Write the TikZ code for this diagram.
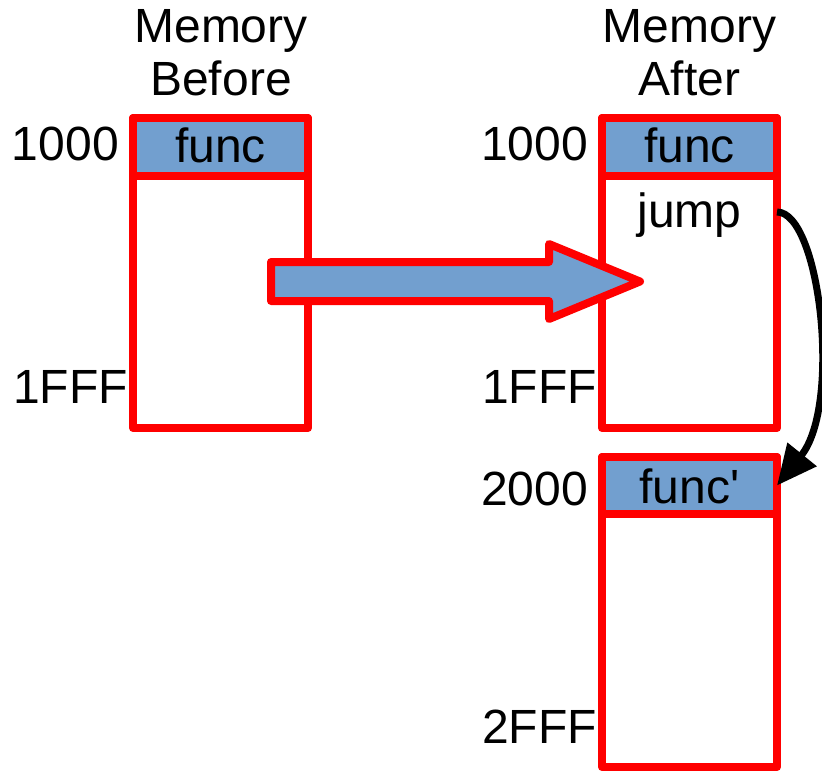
\documentclass[tikz,border=0pt]{standalone}
\usepackage{fontspec}
\setmainfont{Liberation Sans}
\usetikzlibrary{arrows.meta}
\definecolor{memred}{RGB}{255,0,0}
\definecolor{memblue}{RGB}{114,159,207}
\tikzset{
  membody/.style={draw=memred, fill=white, line width=8pt, line join=round,
    rectangle, minimum width=175pt, inner sep=0pt, outer sep=0pt},
  memhead/.style={membody, fill=memblue},
  txt/.style={inner sep=0pt, outer sep=0pt, anchor=base,
    font=\fontsize{48}{53}\selectfont},
  addr/.style={txt, anchor=base west},
  bigarrow/.style={draw=memred, fill=memblue, line width=8pt, line join=round},
  jumparrow/.style={draw=black, line width=7pt, -{Triangle[length=40pt,width=36pt]}}
}
\begin{document}
\begin{tikzpicture}[x=1pt, y=-1pt]
  \useasboundingbox (0,0) rectangle (822,772);

  % column titles
  \node[txt] (t1a) at (221,42) {Memory};
  \node[txt] (t1b) at (221,95) {Before};
  \node[txt] (t2a) at (689.5,42) {Memory};
  \node[txt] (t2b) at (689.5,95) {After};

  % memory before: one region 1000..1FFF
  \node[membody, minimum height=310pt] (bodyA) at (220.5,273) {};
  \node[memhead, minimum height=58pt] (headA) at (220.5,147) {};
  \node[txt] (funcA) at (220.5,162) {func};
  \node[addr] (a1000L) at (12,160) {1000};
  \node[addr] (a1fffL) at (13,403) {1FFF};

  % memory after: original region 1000..1FFF
  \node[membody, minimum height=310pt] (bodyB) at (689.5,273) {};
  \node[memhead, minimum height=58pt] (headB) at (689.5,147) {};
  \node[txt] (funcB) at (689.5,162) {func};
  \node[txt] (jump) at (689.5,227) {jump};
  \node[addr] (a1000R) at (481,160) {1000};
  \node[addr] (a1fffR) at (482,403) {1FFF};

  % memory after: new region 2000..2FFF
  \node[membody, minimum height=310pt] (bodyC) at (689.5,612) {};
  \node[memhead, minimum height=57pt] (headC) at (689.5,485.5) {};
  \node[txt] (funcC) at (689.5,503) {func\textquotesingle};
  \node[addr] (a2000) at (481,505) {2000};
  \node[addr] (a2fff) at (482,743) {2FFF};

  % block arrow between the two states
  \path[bigarrow] (271,262) -- (549,262) -- (549,244) -- (640,281.5)
    -- (549,319) -- (549,301) -- (271,301) -- cycle;

  % jump to the relocated function
  \coordinate (jumpfrom) at (bodyB.east |- 0,212);
  \draw[jumparrow] (jumpfrom) .. controls (820,212) and (842,405) .. (headC.east);
\end{tikzpicture}
\end{document}
